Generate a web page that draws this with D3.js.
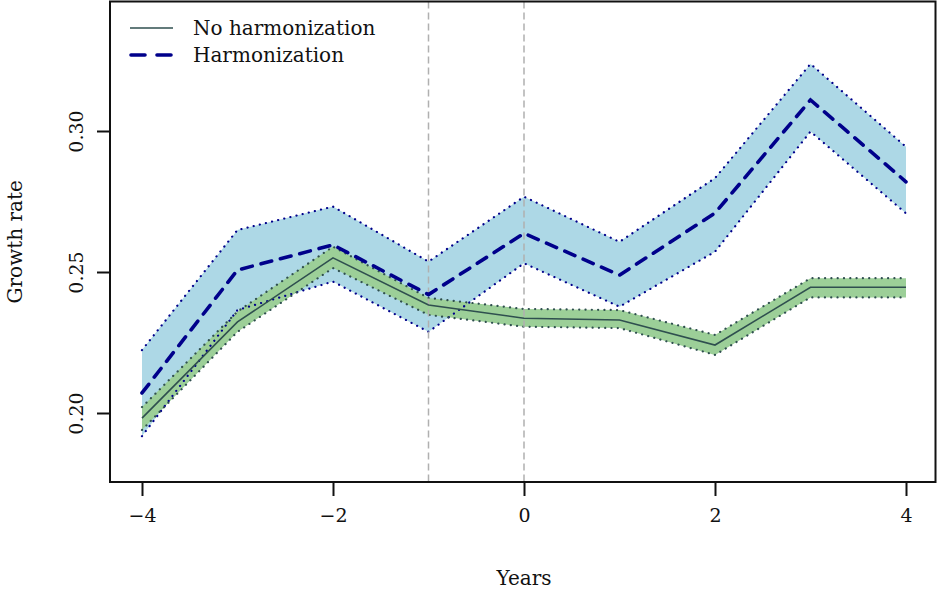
<!DOCTYPE html>
<html>
<head>
<meta charset="utf-8">
<script src="https://cdn.jsdelivr.net/npm/d3@7"></script>
<style>
  body { margin: 0; background: #fff; }
  text { font-family: "DejaVu Serif", serif; fill: #111; }
</style>
</head>
<body>
<svg id="chart"></svg>
<script>
// Data
const years = [-4, -3, -2, -1, 0, 1, 2, 3, 4];

const harm      = [0.2071, 0.2507, 0.2596, 0.2420, 0.2637, 0.2489, 0.2709, 0.3110, 0.2820];
const harmUpper = [0.2223, 0.2649, 0.2732, 0.2537, 0.2767, 0.2607, 0.2833, 0.3238, 0.2944];
const harmLower = [0.1918, 0.2365, 0.2466, 0.2288, 0.2531, 0.2377, 0.2572, 0.2998, 0.2708];

const noHarm      = [0.1982, 0.2323, 0.2550, 0.2383, 0.2336, 0.2330, 0.2241, 0.2446, 0.2446];
const noHarmUpper = [0.2021, 0.2360, 0.2590, 0.2408, 0.2369, 0.2365, 0.2277, 0.2478, 0.2478];
const noHarmLower = [0.1940, 0.2288, 0.2514, 0.2348, 0.2306, 0.2301, 0.2206, 0.2410, 0.2410];

const xTicks = [-4, -2, 0, 2, 4];
const yTicks = [0.20, 0.25, 0.30];
const vLines = [-1, 0];

const legendLabels = ["No harmonization", "Harmonization"];

const width = 938;
const height = 589;
const box = { left: 110, right: 935.5, top: 1.5, bottom: 482 };

const svg = d3.select("#chart")
  .attr("width", width)
  .attr("height", height);

const xScale = d3.scaleLinear().domain([-4, 4]).range([142, 906]);
const yScale = d3.scaleLinear().domain([0.20, 0.30]).range([413, 131]);

const rows = years.map((yr, i) => ({
  x: yr,
  h: harm[i], hu: harmUpper[i], hl: harmLower[i],
  n: noHarm[i], nu: noHarmUpper[i], nl: noHarmLower[i]
}));

// bands
const area = (lo, hi) => d3.area()
  .x((d) => xScale(d.x))
  .y0((d) => yScale(d[lo]))
  .y1((d) => yScale(d[hi]));

const line = (key) => d3.line()
  .x((d) => xScale(d.x))
  .y((d) => yScale(d[key]));

svg.append("path")
  .datum(rows)
  .attr("fill", "#add8e6")
  .attr("d", area("hl", "hu"));

svg.append("path")
  .datum(rows)
  .attr("fill", "#9ccf98")
  .attr("d", area("nl", "nu"));

// dotted band edges
["hu", "hl"].forEach((k) => {
  svg.append("path")
    .datum(rows)
    .attr("fill", "none")
    .attr("stroke", "#00008b")
    .attr("stroke-width", 2.2)
    .attr("stroke-linecap", "round")
    .attr("stroke-dasharray", "0.1,6.2")
    .attr("d", line(k));
});

["nu", "nl"].forEach((k) => {
  svg.append("path")
    .datum(rows)
    .attr("fill", "none")
    .attr("stroke", "#2f4f4f")
    .attr("stroke-width", 2.2)
    .attr("stroke-linecap", "round")
    .attr("stroke-dasharray", "0.1,6.2")
    .attr("d", line(k));
});

// vertical reference lines
svg.selectAll(".vline")
  .data(vLines)
  .enter()
  .append("line")
  .attr("x1", (d) => xScale(d))
  .attr("x2", (d) => xScale(d))
  .attr("y1", box.top)
  .attr("y2", box.bottom)
  .attr("stroke", "#b0b0b0")
  .attr("stroke-width", 1.5)
  .attr("stroke-dasharray", "7,4");

// main lines
svg.append("path")
  .datum(rows)
  .attr("fill", "none")
  .attr("stroke", "#2f4f4f")
  .attr("stroke-width", 1.6)
  .attr("d", line("n"));

svg.append("path")
  .datum(rows)
  .attr("fill", "none")
  .attr("stroke", "#00008b")
  .attr("stroke-width", 3.6)
  .attr("stroke-linecap", "round")
  .attr("stroke-dasharray", "11,9")
  .attr("d", line("h"));

// plot box
svg.append("rect")
  .attr("x", box.left)
  .attr("y", box.top)
  .attr("width", box.right - box.left)
  .attr("height", box.bottom - box.top)
  .attr("fill", "none")
  .attr("stroke", "#111")
  .attr("stroke-width", 2);

// x axis
const xAxis = svg.append("g")
  .attr("transform", `translate(0,${box.bottom})`)
  .call(d3.axisBottom(xScale)
    .tickValues(xTicks)
    .tickSize(14)
    .tickPadding(13)
    .tickFormat((d) => (d < 0 ? "\u2212" + Math.abs(d) : d)));
xAxis.select(".domain").remove();
xAxis.selectAll("line").attr("stroke", "#111").attr("stroke-width", 2);
xAxis.selectAll("text")
  .style("font-family", "DejaVu Serif, serif")
  .style("font-size", "19px")
  .attr("fill", "#111");

// y axis
const yAxis = svg.append("g")
  .attr("transform", `translate(${box.left},0)`)
  .call(d3.axisLeft(yScale)
    .tickValues(yTicks)
    .tickSize(13)
    .tickFormat(d3.format(".2f")));
yAxis.select(".domain").remove();
yAxis.selectAll("line").attr("stroke", "#111").attr("stroke-width", 2);
yAxis.selectAll("text")
  .attr("x", null)
  .attr("dy", null)
  .attr("transform", "translate(-34,0) rotate(-90)")
  .attr("text-anchor", "middle")
  .attr("dominant-baseline", "central")
  .style("font-family", "DejaVu Serif, serif")
  .style("font-size", "19px")
  .attr("fill", "#111");

// axis titles
svg.append("text")
  .attr("x", xScale(0))
  .attr("y", 585)
  .attr("text-anchor", "middle")
  .style("font-size", "20px")
  .text("Years");

svg.append("text")
  .attr("transform", `translate(22,${(box.top + box.bottom) / 2}) rotate(-90)`)
  .attr("text-anchor", "middle")
  .style("font-size", "20px")
  .text("Growth rate");

// legend
const legend = svg.append("g");
legend.append("line")
  .attr("x1", 130).attr("x2", 173)
  .attr("y1", 28).attr("y2", 28)
  .attr("stroke", "#2f4f4f")
  .attr("stroke-width", 1.6);
legend.append("line")
  .attr("x1", 131).attr("x2", 173)
  .attr("y1", 55).attr("y2", 55)
  .attr("stroke", "#00008b")
  .attr("stroke-width", 3.6)
  .attr("stroke-linecap", "round")
  .attr("stroke-dasharray", "14,12");
legend.selectAll(".lab")
  .data(legendLabels)
  .enter()
  .append("text")
  .attr("x", 193)
  .attr("y", (d, i) => 28 + i * 27)
  .attr("dominant-baseline", "central")
  .style("font-size", "20px")
  .text((d) => d);
</script>
</body>
</html>
